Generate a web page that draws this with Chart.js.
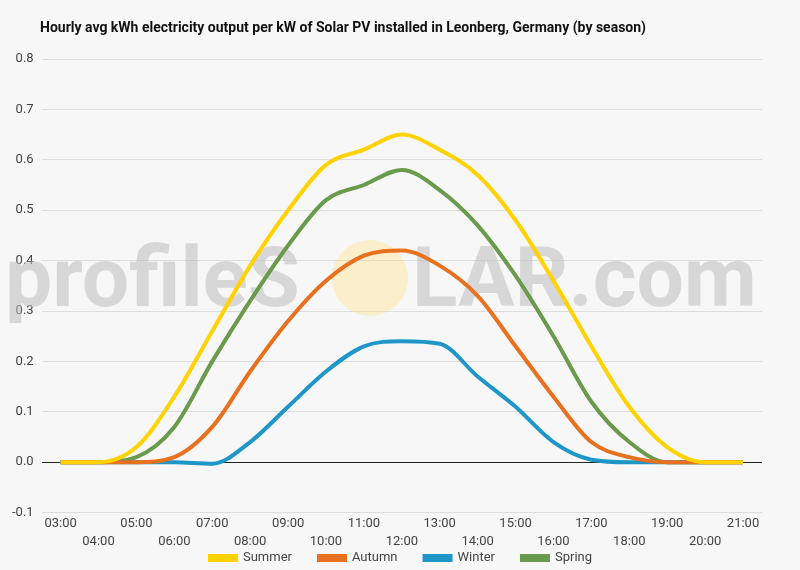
<!DOCTYPE html>
<html>
<head>
<script src="https://cdn.jsdelivr.net/npm/chart.js@4"></script>
<style>
body { margin: 0; background: #f7f7f7; }
#wrap { width: 800px; height: 570px; }
</style>
</head>
<body>
<div id="wrap"><canvas id="myChart"></canvas></div>
<script>
// Data
const hours = ['03:00','04:00','05:00','06:00','07:00','08:00','09:00','10:00','11:00','12:00','13:00','14:00','15:00','16:00','17:00','18:00','19:00','20:00','21:00'];
const summer = [0, 0, 0.03, 0.13, 0.26, 0.39, 0.50, 0.59, 0.62, 0.65, 0.62, 0.57, 0.48, 0.36, 0.23, 0.11, 0.03, 0, 0];
const autumn = [0, 0, 0, 0.01, 0.07, 0.18, 0.28, 0.36, 0.41, 0.42, 0.39, 0.33, 0.23, 0.13, 0.04, 0.01, 0, 0, 0];
const winter = [0, 0, 0, 0, -0.003, 0.04, 0.11, 0.18, 0.23, 0.24, 0.235, 0.17, 0.11, 0.04, 0.005, 0, 0, 0, 0];
const spring = [0, 0, 0.01, 0.07, 0.20, 0.32, 0.43, 0.52, 0.55, 0.58, 0.54, 0.47, 0.37, 0.25, 0.12, 0.04, 0, 0, 0];
const title = 'Hourly avg kWh electricity output per kW of Solar PV installed in Leonberg, Germany (by season)';

Chart.defaults.font.family = 'Roboto';

// watermark, title and a compact legend drawn straight on the canvas
const extras = {
    id: 'extras',
    beforeDatasetsDraw(chart) {
        const c = chart.ctx;
        c.save();
        c.fillStyle = 'rgba(255,220,120,0.35)';
        c.beginPath();
        c.arc(370, 278, 38, 0, Math.PI * 2);
        c.fill();
        c.font = '700 84px Roboto';
        c.fillStyle = 'rgba(190,190,190,0.55)';
        c.textBaseline = 'middle';
        c.fillText('profileS', 5, 285);
        c.fillText('LAR.com', 412, 285);
        c.font = '700 14px Roboto';
        c.fillStyle = '#111';
        c.fillText(title, 40, 28);

        c.font = '13px Roboto';
        const sets = chart.data.datasets;
        const widths = sets.map(d => 30 + 5 + c.measureText(d.label).width);
        const gap = 25;
        let x = 400 - (widths.reduce((a, b) => a + b, 0) + gap * (sets.length - 1)) / 2;
        sets.forEach((d, i) => {
            c.fillStyle = d.borderColor;
            c.fillRect(x, 554, 30, 8);
            c.fillStyle = '#444';
            c.fillText(d.label, x + 35, 558);
            x += widths[i] + gap;
        });
        c.restore();
    }
};

const ctx = document.getElementById('myChart').getContext('2d');
const myChart = new Chart(ctx, {
    type: 'line',
    data: {
        labels: hours,
        datasets: [
            { label: 'Summer', data: summer, borderColor: '#FFD200', backgroundColor: '#FFD200' },
            { label: 'Autumn', data: autumn, borderColor: '#E8711F', backgroundColor: '#E8711F' },
            { label: 'Winter', data: winter, borderColor: '#1E96C8', backgroundColor: '#1E96C8' },
            { label: 'Spring', data: spring, borderColor: '#6A9A4B', backgroundColor: '#6A9A4B' }
        ]
    },
    plugins: [extras],
    options: {
        responsive: true,
        maintainAspectRatio: false,
        animation: false,
        layout: { padding: { left: 4, right: 38, top: 59, bottom: 25 } },
        elements: {
            line: { borderWidth: 4, tension: 0.4, cubicInterpolationMode: 'monotone' },
            point: { radius: 0 }
        },
        plugins: {
            title: { display: false },
            legend: { display: false }
        },
        scales: {
            x: {
                offset: true,
                grid: { display: false },
                border: { display: false },
                ticks: {
                    color: '#444',
                    font: { size: 13, lineHeight: 1.4 },
                    autoSkip: false,
                    maxRotation: 0,
                    padding: -6,
                    callback: (v, i) => i % 2 === 0 ? [hours[i], ''] : ['', hours[i]]
                }
            },
            y: {
                min: -0.1,
                max: 0.8,
                border: { display: false },
                grid: {
                    color: ctx2 => ctx2.tick.value === 0 ? '#222' : '#dddddd',
                    drawTicks: false
                },
                ticks: { stepSize: 0.1, color: '#444', font: { size: 13 }, padding: 8, callback: v => v.toFixed(1) }
            }
        }
    }
});
</script>
</body>
</html>
